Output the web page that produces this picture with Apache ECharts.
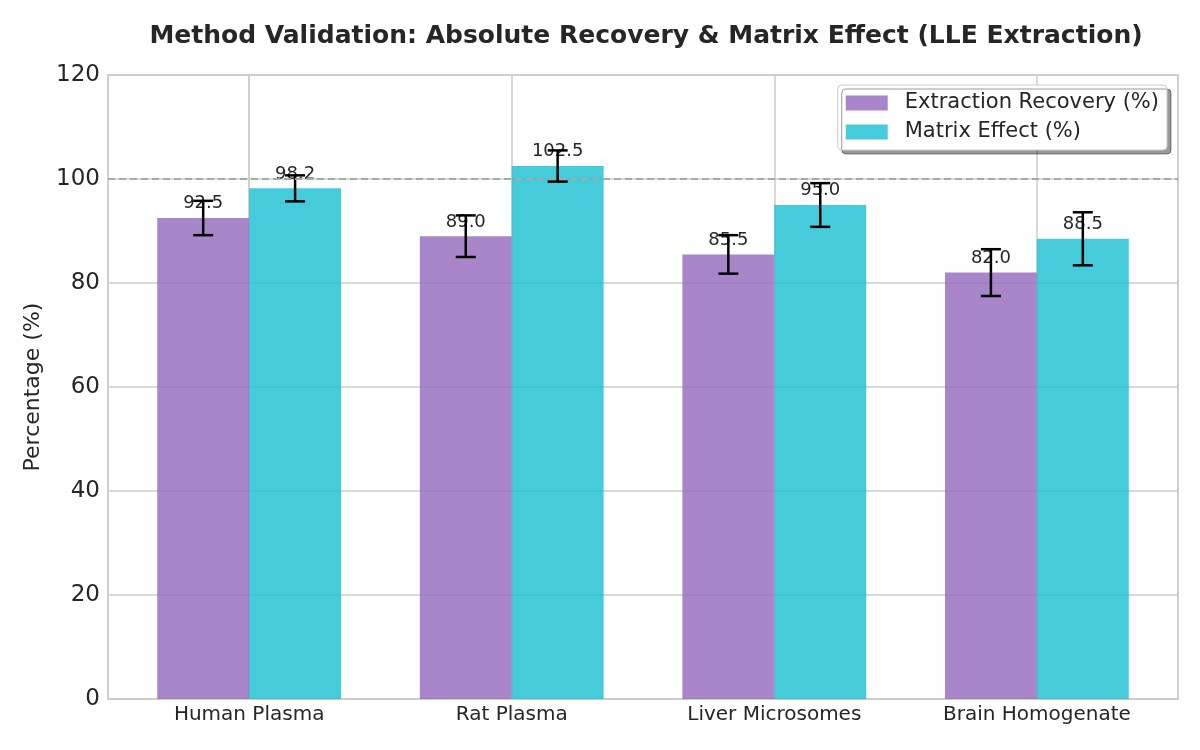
<!DOCTYPE html>
<html><head><meta charset="utf-8">
<script src="https://cdn.jsdelivr.net/npm/echarts@6/dist/echarts.min.js"></script>
<style>html,body{margin:0;padding:0;background:#fff}#c{width:1200px;height:750px}</style>
</head><body><div id="c"></div>
<script>
const categories = ['Human Plasma', 'Rat Plasma', 'Liver Microsomes', 'Brain Homogenate'];
const recoveryValues = [92.5, 89.0, 85.5, 82.0];
const recoveryErrors = [3.3, 4.0, 3.7, 4.5];
const matrixValues = [98.2, 102.5, 95.0, 88.5];
const matrixErrors = [2.5, 3.0, 4.2, 5.1];
const seriesNames = ['Extraction Recovery (%)', 'Matrix Effect (%)'];
const yTicks = [0, 20, 40, 60, 80, 100, 120];
const referenceLine = 100;

const colors = ['rgba(148,103,189,0.8)', 'rgba(23,190,207,0.8)'];
const barW = 0.35;
const FONT = 'DejaVu Sans';

function makeRender(offset, color) {
  return function (params, api) {
    const x = api.value(0), y = api.value(1), e = api.value(2);
    const cx = x + offset;
    const p0 = api.coord([cx - barW / 2, y]);
    const p1 = api.coord([cx + barW / 2, 0]);
    const top = api.coord([cx, y + e]);
    const bot = api.coord([cx, y - e]);
    const lab = api.coord([cx, y + 1.0]);
    const cap = 10;
    return {
      type: 'group',
      children: [
        { type: 'rect', shape: { x: p0[0], y: p0[1], width: p1[0] - p0[0], height: p1[1] - p0[1] }, style: { fill: color } },
        { type: 'text', x: lab[0], y: lab[1], style: { text: y.toFixed(1), fill: '#262626', font: '18px "' + FONT + '"', align: 'center', verticalAlign: 'bottom' } },
        { type: 'line', shape: { x1: top[0], y1: top[1], x2: bot[0], y2: bot[1] }, style: { stroke: '#000', lineWidth: 2.5 } },
        { type: 'line', shape: { x1: top[0] - cap, y1: top[1], x2: top[0] + cap, y2: top[1] }, style: { stroke: '#000', lineWidth: 2.5 } },
        { type: 'line', shape: { x1: bot[0] - cap, y1: bot[1], x2: bot[0] + cap, y2: bot[1] }, style: { stroke: '#000', lineWidth: 2.5 } }
      ]
    };
  };
}

const recData = categories.map((c, i) => [i, recoveryValues[i], recoveryErrors[i]]);
const matData = categories.map((c, i) => [i, matrixValues[i], matrixErrors[i]]);

const chart = echarts.init(document.getElementById('c'), null, { renderer: 'canvas' });
chart.setOption({
  animation: false,
  backgroundColor: '#fff',
  textStyle: { fontFamily: FONT },
  title: {
    text: 'Method Validation: Absolute Recovery & Matrix Effect (LLE Extraction)',
    left: 641, top: 19, textAlign: 'center',
    textStyle: { fontFamily: FONT, fontSize: 25, fontWeight: 'bold', color: '#262626' }
  },
  legend: {
    orient: 'vertical', right: 33, top: 85,
    data: seriesNames,
    icon: 'rect', itemWidth: 42, itemHeight: 15, itemGap: 7,
    padding: [7, 8, 7, 8],
    backgroundColor: '#fff', borderColor: '#cccccc', borderWidth: 1, borderRadius: 4,
    shadowColor: 'rgba(0,0,0,0.4)', shadowBlur: 0, shadowOffsetX: 4, shadowOffsetY: 4,
    textStyle: { fontFamily: FONT, fontSize: 21, color: '#262626', lineHeight: 22, padding: [0, 0, 0, 12] }
  },
  grid: { left: 108, right: 22, top: 75, bottom: 51, show: true, borderColor: '#cccccc', borderWidth: 1.5, backgroundColor: 'transparent' },
  xAxis: {
    type: 'value', min: -0.5375, max: 3.5375,
    axisLine: { show: true, lineStyle: { color: '#cccccc', width: 1.5 } },
    axisTick: { show: false },
    splitLine: { show: true, lineStyle: { color: '#cccccc', width: 1.5 } },
    axisLabel: {
      margin: 6, fontSize: 20, color: '#262626', fontFamily: FONT,
      showMinLabel: false, showMaxLabel: false,
      formatter: v => (Number.isInteger(v) && categories[v] !== undefined) ? categories[v] : ''
    }
  },
  yAxis: {
    type: 'value', min: yTicks[0], max: yTicks[yTicks.length - 1], interval: yTicks[1] - yTicks[0],
    name: 'Percentage (%)', nameLocation: 'middle', nameGap: 64,
    nameTextStyle: { fontSize: 22, color: '#262626', fontFamily: FONT },
    axisLine: { show: true, lineStyle: { color: '#cccccc', width: 1.5 } },
    axisTick: { show: false },
    splitLine: { show: true, lineStyle: { color: '#cccccc', width: 1.5 } },
    axisLabel: { margin: 8, fontSize: 23, color: '#262626', fontFamily: FONT }
  },
  series: [
    {
      name: seriesNames[0], type: 'custom', data: recData,
      itemStyle: { color: colors[0] },
      renderItem: makeRender(-barW / 2, colors[0]),
      encode: { x: 0, y: 1 },
      z: 2,
      markLine: {
        silent: true, symbol: ['none', 'none'], z: 10,
        label: { show: false },
        lineStyle: { type: [7, 4], color: '#a8a8a8', width: 2.2 },
        data: [{ yAxis: referenceLine }]
      }
    },
    {
      name: seriesNames[1], type: 'custom', data: matData,
      itemStyle: { color: colors[1] },
      renderItem: makeRender(barW / 2, colors[1]),
      encode: { x: 0, y: 1 },
      z: 2
    }
  ]
});
</script></body></html>
